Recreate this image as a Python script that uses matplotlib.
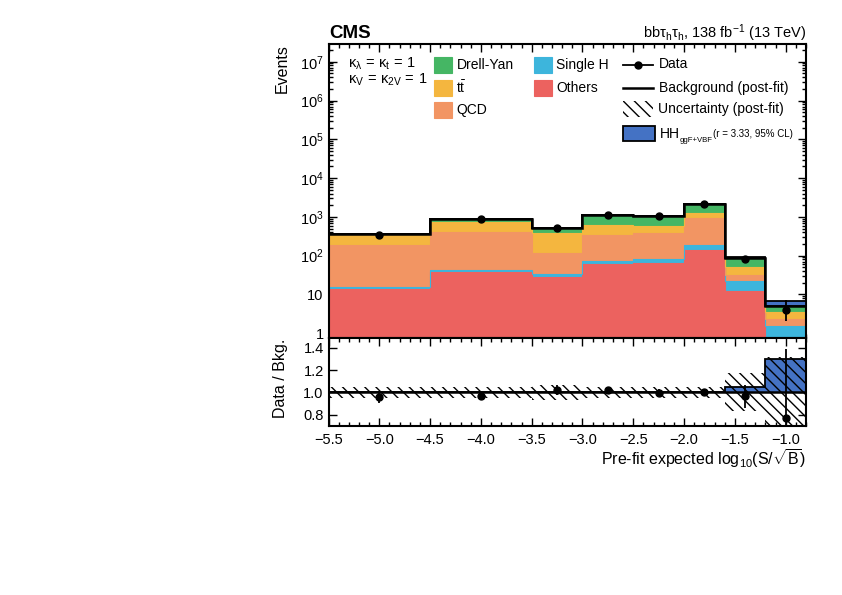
import numpy as np
import matplotlib
matplotlib.use("Agg")
import matplotlib.pyplot as plt
from matplotlib.ticker import MultipleLocator, LogLocator, NullFormatter, FuncFormatter, FixedLocator
from matplotlib.patches import Rectangle
from matplotlib.lines import Line2D

plt.rcParams['font.family'] = ['Liberation Sans', 'DejaVu Sans']
plt.rcParams['mathtext.fontset'] = 'custom'
plt.rcParams['mathtext.rm'] = 'Liberation Sans'
plt.rcParams['mathtext.it'] = 'Liberation Sans:italic'
plt.rcParams['mathtext.bf'] = 'Liberation Sans:bold'
plt.rcParams['hatch.linewidth'] = 1.0

# ---------------- data ----------------
edges = [-5.5, -4.5, -3.5, -3.0, -2.5, -2.0, -1.6, -1.2, -0.8]
data_x = [-5.0, -4.0, -3.25, -2.75, -2.25, -1.8, -1.4, -1.0]
data = [350, 870, 530, 1115, 1025, 2210, 83, 4]
data_err_lo = [19, 30, 23, 33, 32, 47, 9.1, 1.9]
data_err_hi = [19, 30, 23, 33, 32, 47, 9.1, 3.2]

others = [14, 38, 28, 62, 64, 142, 12.4, 0.3]
single_h = [1.5, 4.5, 5.5, 12, 17.6, 49, 10, 1.25]
qcd = [175, 366, 84, 273, 302, 743, 9.6, 0.8]
ttbar = [145, 330, 267, 282, 185, 326, 20.6, 1.14]
drell_yan = [30, 160, 133, 465, 461, 935, 33.4, 1.7]
hh = [0.05, 0.1, 0.15, 0.5, 1.0, 4.0, 4.3, 1.56]
unc_rel = [0.05, 0.05, 0.07, 0.05, 0.05, 0.05, 0.17, 0.32]

components = [
    ("Others", others, '#ec625f'),
    ("Single H", single_h, '#3db5dc'),
    ("QCD", qcd, '#f29563'),
    (r"$\mathregular{t\bar{t}}$", ttbar, '#f4b63f'),
    ("Drell-Yan", drell_yan, '#45b664'),
]
hh_color = '#4472c4'

# ---------------- figure ----------------
W, H = 842, 595
fig = plt.figure(figsize=(W / 100, H / 100), dpi=100)
L, R = 328.5, 806
T, M, B = 44, 337.7, 426
ax = fig.add_axes([L / W, 1 - M / H, (R - L) / W, (M - T) / H])
rax = fig.add_axes([L / W, 1 - B / H, (R - L) / W, (B - M) / H], sharex=ax)

edges_a = np.array(edges)
bottom = np.zeros(len(others))
for name, vals, col in components:
    top = bottom + np.array(vals)
    ax.stairs(top, edges_a, baseline=bottom, fill=True, color=col, lw=0, zorder=2)
    ax.stairs(top, edges_a, baseline=None, color=col, lw=0.8, zorder=2.1)
    bottom = top
bkg = bottom.copy()
hh_a = np.array(hh)
ax.stairs(bkg + hh_a, edges_a, baseline=bkg, fill=True, color=hh_color, lw=0, zorder=3)
ax.stairs(bkg + hh_a, edges_a, baseline=bkg, fill=False, color='black', lw=1.3, zorder=3.1)
ax.stairs(bkg, edges_a, baseline=None, color='black', lw=1.8, zorder=4)

ax.errorbar(data_x, data, yerr=[data_err_lo, data_err_hi], fmt='o', color='black',
            ms=5, lw=1.3, capsize=0, zorder=5)

ax.set_yscale('log')
ax.set_ylim(0.77, 2.86e7)
ax.set_xlim(-5.5, -0.8)

def yfmt(v, pos):
    e = int(round(np.log10(v)))
    if e == 0:
        return '1'
    if e == 1:
        return '10'
    return r'$\mathregular{10^{%d}}$' % e

ax.yaxis.set_major_locator(LogLocator(base=10, numticks=20))
ax.yaxis.set_minor_locator(LogLocator(base=10, subs=np.arange(2, 10), numticks=20))
ax.yaxis.set_major_formatter(FuncFormatter(yfmt))
ax.yaxis.set_minor_formatter(NullFormatter())
ax.tick_params(axis='x', labelbottom=False)

# ---------------- ratio ----------------
data_a = np.array(data, dtype=float)
ratio = data_a / bkg
r_lo = np.array(data_err_lo) / bkg
r_hi = np.array(data_err_hi) / bkg
unc_a = np.array(unc_rel)

rax.stairs(1 + hh_a / bkg, edges_a, baseline=1.0, fill=True, color=hh_color, lw=0, zorder=2)
rax.stairs(1 + hh_a / bkg, edges_a, baseline=1.0, fill=False, color='black', lw=1.3, zorder=2.1)
rax.stairs(1 + unc_a, edges_a, baseline=1 - unc_a, fill=True, facecolor='none',
           edgecolor='black', hatch='\\' * 3, lw=0, zorder=3)
rax.axhline(1.0, color='black', lw=1.8, zorder=4)
rax.errorbar(data_x, ratio, yerr=[r_lo, r_hi], fmt='o', color='black', ms=5, lw=1.3,
             capsize=0, zorder=5)
rax.set_ylim(0.7, 1.49)
rax.yaxis.set_major_locator(FixedLocator([0.8, 1.0, 1.2, 1.4]))
rax.yaxis.set_major_formatter(FuncFormatter(lambda v, p: '%.1f' % v))
rax.xaxis.set_major_locator(MultipleLocator(0.5))
rax.xaxis.set_minor_locator(MultipleLocator(0.1))

for a in (ax, rax):
    a.tick_params(which='both', direction='in', top=True, right=True, labelsize=10.5, width=1.0)
    a.tick_params(which='major', length=6)
    a.tick_params(which='minor', length=3)
    for s in a.spines.values():
        s.set_linewidth(1.5)
rax.tick_params(axis='x', pad=5)

# ---------------- texts ----------------
def px(x, y):
    return x / W, 1 - y / H

fig.text(*px(329, 38), 'CMS', fontsize=13.5, fontweight='bold', ha='left', va='baseline')
fig.text(*px(806, 38), r'$\mathregular{bb\tau_{h}\tau_{h}}$, 138 fb$^{\mathregular{-1}}$ (13 TeV)',
         fontsize=10.5, ha='right', va='baseline')
fig.text(*px(282, 44), 'Events', rotation=90, fontsize=11.5, ha='center', va='top')
fig.text(*px(280, 378), 'Data / Bkg.', rotation=90, fontsize=11.5, ha='center', va='center')
fig.text(*px(806, 459), r'Pre-fit expected log$_{\mathregular{10}}$(S/$\mathregular{\sqrt{B}}$)',
         fontsize=11.5, ha='right', va='center')

fig.text(*px(348, 67.5), r'$\mathregular{\kappa_{\lambda}\,=\,\kappa_{t}\,=\,1}$', fontsize=10.5,
         ha='left', va='baseline')
fig.text(*px(348, 83.5), r'$\mathregular{\kappa_{V}\,=\,\kappa_{2V}\,=\,1}$', fontsize=10.5,
         ha='left', va='baseline')

LFS = 10
ftr = fig.transFigure
def patch_entry(x0, y0, x1, y1, color, label, **kw):
    fx0, fy1 = px(x0, y1)
    fx1, fy0 = px(x1, y0)
    fig.patches.append(Rectangle((fx0, fy1), fx1 - fx0, fy0 - fy1, transform=ftr,
                                 figure=fig, facecolor=color, **kw))
    if label:
        fig.text(*px(x1 + 4.5, (y0 + y1) / 2), label, fontsize=LFS, ha='left', va='center')

legend_rows = [65, 88, 110, 133.5]
col1 = [components[4], components[3], components[2]]
for (name, vals, col), yc in zip(col1, legend_rows):
    patch_entry(434, yc - 8, 452, yc + 8, col, name, edgecolor=col, lw=0.8)
col2 = [components[1], components[0]]
for (name, vals, col), yc in zip(col2, legend_rows):
    patch_entry(534, yc - 8, 552, yc + 8, col, name, edgecolor=col, lw=0.8)

# Data
fig.lines.append(Line2D([px(623, 0)[0], px(653, 0)[0]], [px(0, 64.5)[1]] * 2, transform=ftr,
                        color='black', lw=1.3, figure=fig))
fig.lines.append(Line2D([px(638, 0)[0]], [px(0, 64.5)[1]], transform=ftr, color='black',
                        marker='o', ms=5, lw=0, figure=fig))
fig.text(*px(659, 64.5), 'Data', fontsize=LFS, ha='left', va='center')
# Background
fig.lines.append(Line2D([px(623, 0)[0], px(653, 0)[0]], [px(0, 88)[1]] * 2, transform=ftr,
                        color='black', lw=1.8, figure=fig))
fig.text(*px(659, 88), 'Background (post-fit)', fontsize=LFS, ha='left', va='center')
# Uncertainty
patch_entry(623, 101, 653, 117, 'none', 'Uncertainty (post-fit)', edgecolor='black',
            hatch='\\' * 3, lw=0)
# HH
patch_entry(623, 126, 655, 141, hh_color, None, edgecolor='black', lw=1.3)
fig.text(*px(660, 138), 'HH', fontsize=LFS, ha='left', va='baseline')
fig.text(*px(680, 142), 'ggF+VBF', fontsize=5.6, ha='left', va='baseline')
fig.text(*px(713, 137), '(r = 3.33, 95% CL)', fontsize=7.0, ha='left', va='baseline')

fig.savefig('out.png', dpi=100)
